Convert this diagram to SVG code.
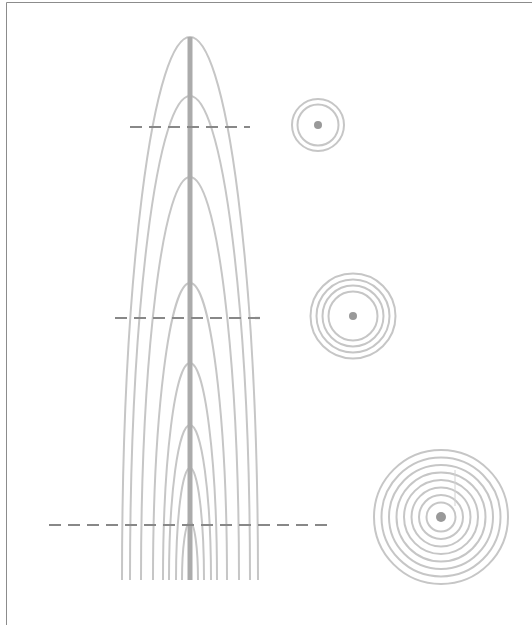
<svg xmlns="http://www.w3.org/2000/svg" width="532" height="625" viewBox="0 0 532 625">
  <style>
    .frame { stroke: #8c8c8c; stroke-width: 1; fill: none; }
    .ring { fill: none; stroke: #c6c6c6; stroke-width: 2; }
    .pith { fill: #999999; }
    .cut { stroke: #888888; stroke-width: 2.2; stroke-dasharray: 12 7; fill: none; }
    .axis { stroke: #ababab; stroke-width: 5; fill: none; }
  </style>
  <rect width="532" height="625" fill="#ffffff"/>
  <!-- frame edges -->
  <path class="frame" d="M6.5 625 V2.5 H532"/>

  <!-- stem: annual growth layers as nested half-ellipses around the pith -->
  <g id="stem">
    <path class="ring" d="M122 580 A68 543 0 0 1 258 580"/>
    <path class="ring" d="M130 580 A60 484 0 0 1 250 580"/>
    <path class="ring" d="M141 580 A49 403 0 0 1 239 580"/>
    <path class="ring" d="M153 580 A37 297 0 0 1 227 580"/>
    <path class="ring" d="M163 580 A27 217 0 0 1 217 580"/>
    <path class="ring" d="M169 580 A21 155 0 0 1 211 580"/>
    <path class="ring" d="M176 580 A14 112 0 0 1 204 580"/>
    <path class="ring" d="M182 580 A8 58 0 0 1 198 580"/>
    <line class="axis" x1="190" y1="37" x2="190" y2="580"/>
  </g>

  <!-- cutting planes -->
  <g id="cuts">
    <line class="cut" x1="130" y1="127" x2="250" y2="127"/>
    <line class="cut" x1="115" y1="318" x2="263" y2="318"/>
    <line class="cut" x1="49" y1="525" x2="330" y2="525"/>
  </g>

  <!-- cross sections -->
  <g id="section-top">
    <circle class="ring" cx="318" cy="125" r="26"/>
    <circle class="ring" cx="318" cy="125" r="20.5"/>
    <circle class="pith" cx="318" cy="125" r="4"/>
  </g>

  <g id="section-middle">
    <circle class="ring" cx="353" cy="316" r="42.5"/>
    <circle class="ring" cx="353" cy="316" r="36.5"/>
    <circle class="ring" cx="353" cy="316" r="30.5"/>
    <circle class="ring" cx="353" cy="316" r="24.5"/>
    <circle class="pith" cx="353" cy="316" r="4"/>
  </g>

  <g id="section-bottom">
    <circle class="ring" cx="441" cy="517" r="67"/>
    <circle class="ring" cx="441" cy="517" r="59.5"/>
    <circle class="ring" cx="441" cy="517" r="52"/>
    <circle class="ring" cx="441" cy="517" r="44.5"/>
    <circle class="ring" cx="441" cy="517" r="37"/>
    <circle class="ring" cx="441" cy="517" r="29.5"/>
    <circle class="ring" cx="441" cy="517" r="22"/>
    <circle class="ring" cx="441" cy="517" r="14.5"/>
    <!-- seam where the ring spiral steps outward -->
    <line x1="455" y1="470" x2="455" y2="506" stroke="#d4d4d4" stroke-width="1"/>
    <circle class="pith" cx="441" cy="517" r="5"/>
  </g>
</svg>
